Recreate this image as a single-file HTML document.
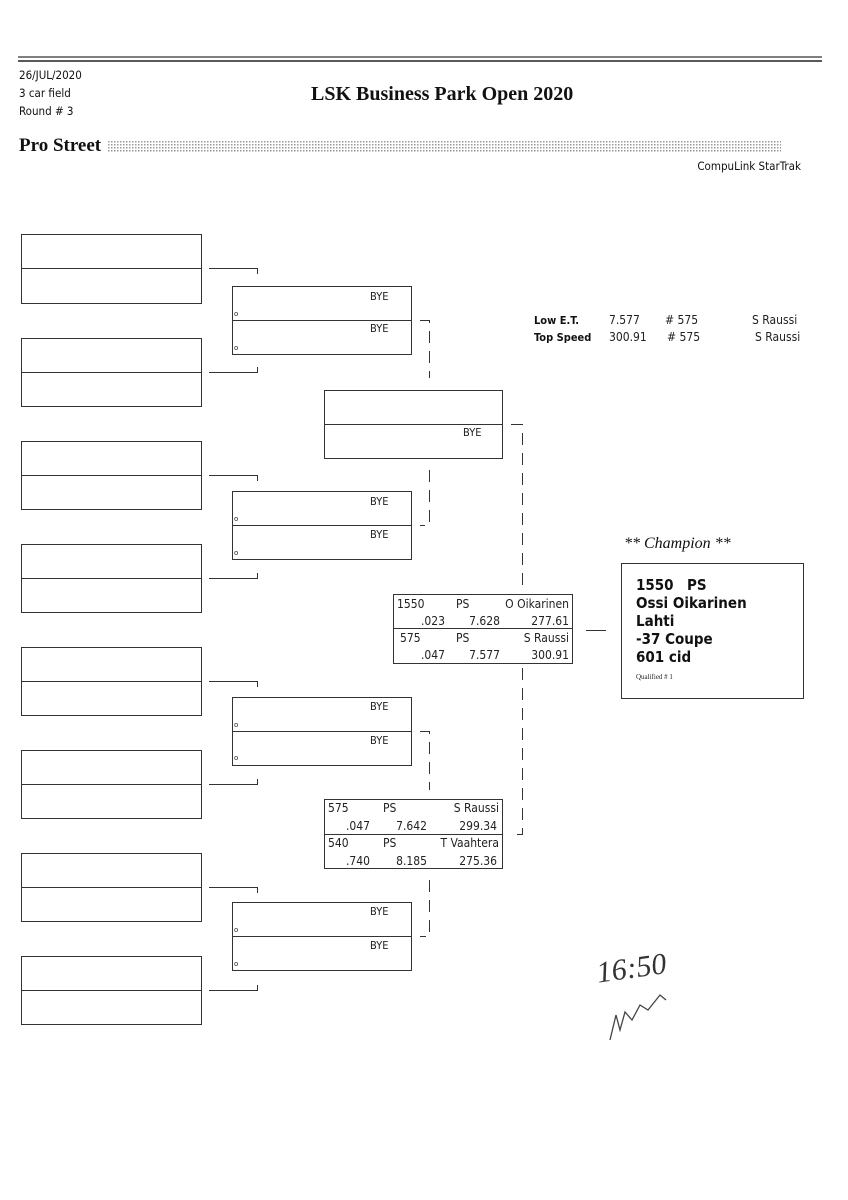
<!DOCTYPE html>
<html><head><meta charset="utf-8"><style>
html,body{margin:0;padding:0;background:#fff;}
svg{display:block}
</style></head><body>
<svg width="848" height="1200" viewBox="0 0 848 1200" xmlns="http://www.w3.org/2000/svg" font-family="Liberation Sans, sans-serif">
<defs>
<pattern id="dots" width="3" height="3" patternUnits="userSpaceOnUse"><rect width="3" height="3" fill="#fff"/><rect width="1.5" height="1.5" fill="#999"/></pattern>
</defs>
<line x1="18" y1="57" x2="822" y2="57" stroke="#555" stroke-width="1.5"/>
<line x1="18" y1="61" x2="822" y2="61" stroke="#222" stroke-width="1.5"/>
<text x="19" y="79" font-size="11.5" fill="#111" font-family="DejaVu Sans Condensed, sans-serif">26/JUL/2020</text>
<text x="19" y="97" font-size="11.5" fill="#111" font-family="DejaVu Sans Condensed, sans-serif">3 car field</text>
<text x="19" y="115" font-size="11.5" fill="#111" font-family="DejaVu Sans Condensed, sans-serif">Round # 3</text>
<text x="311" y="100" font-size="20" font-weight="bold" font-family="Liberation Serif, serif" fill="#111">LSK Business Park Open 2020</text>
<text x="19" y="151" font-size="19" font-weight="bold" font-family="Liberation Serif, serif" fill="#111">Pro Street</text>
<rect x="108" y="141" width="673" height="11" fill="url(#dots)"/>
<text x="801" y="170" font-size="11.5" text-anchor="end" fill="#111" font-family="DejaVu Sans Condensed, sans-serif">CompuLink StarTrak</text>

<g fill="none" stroke="#333" stroke-width="1">
<rect x="21.5" y="234.5" width="180" height="69"/><line x1="21" y1="268.5" x2="201" y2="268.5"/>
<rect x="21.5" y="338.5" width="180" height="68"/><line x1="21" y1="372.5" x2="201" y2="372.5"/>
<rect x="21.5" y="441.5" width="180" height="68"/><line x1="21" y1="475.5" x2="201" y2="475.5"/>
<rect x="21.5" y="544.5" width="180" height="68"/><line x1="21" y1="578.5" x2="201" y2="578.5"/>
<rect x="21.5" y="647.5" width="180" height="68"/><line x1="21" y1="681.5" x2="201" y2="681.5"/>
<rect x="21.5" y="750.5" width="180" height="68"/><line x1="21" y1="784.5" x2="201" y2="784.5"/>
<rect x="21.5" y="853.5" width="180" height="68"/><line x1="21" y1="887.5" x2="201" y2="887.5"/>
<rect x="21.5" y="956.5" width="180" height="68"/><line x1="21" y1="990.5" x2="201" y2="990.5"/>
<path d="M209 268.5H257.5V274"/><path d="M209 372.5H257.5V367"/>
<path d="M209 475.5H257.5V481"/><path d="M209 578.5H257.5V573"/>
<path d="M209 681.5H257.5V687"/><path d="M209 784.5H257.5V779"/>
<path d="M209 887.5H257.5V893"/><path d="M209 990.5H257.5V985"/>
<rect x="232.5" y="286.5" width="179" height="68"/><line x1="232" y1="320.5" x2="412" y2="320.5"/>
<rect x="232.5" y="491.5" width="179" height="68"/><line x1="232" y1="525.5" x2="412" y2="525.5"/>
<rect x="232.5" y="697.5" width="179" height="68"/><line x1="232" y1="731.5" x2="412" y2="731.5"/>
<rect x="232.5" y="902.5" width="179" height="68"/><line x1="232" y1="936.5" x2="412" y2="936.5"/>
<path d="M420 320.5H429.5V378" stroke-dasharray="12,8"/>
<path d="M429.5 470V525.5H420" stroke-dasharray="12,8"/>
<path d="M420 731.5H429.5V790" stroke-dasharray="12,8"/>
<path d="M429.5 880V936.5H420" stroke-dasharray="12,8"/>
<rect x="324.5" y="390.5" width="178" height="68"/><line x1="324" y1="424.5" x2="502" y2="424.5"/>
<rect x="324.5" y="799.5" width="178" height="69"/><line x1="324" y1="834.5" x2="502" y2="834.5"/>
<path d="M511 424.5H522.5V592" stroke-dasharray="12,8"/>
<path d="M522.5 668V834.5H511" stroke-dasharray="12,8"/>
<rect x="393.5" y="594.5" width="179" height="69"/><line x1="393" y1="628.5" x2="573" y2="628.5"/>
<line x1="586" y1="630.5" x2="606" y2="630.5"/>
<rect x="621.5" y="563.5" width="182" height="135"/>
</g>

<g font-family="DejaVu Sans Condensed, DejaVu Sans, sans-serif" font-size="11" fill="#222">
<text x="370" y="300">BYE</text><text x="370" y="332">BYE</text>
<text x="370" y="505">BYE</text><text x="370" y="538">BYE</text>
<text x="370" y="710">BYE</text><text x="370" y="744">BYE</text>
<text x="370" y="915">BYE</text><text x="370" y="949">BYE</text>
<text x="463" y="436">BYE</text>
</g>
<g font-family="DejaVu Sans, sans-serif" font-size="7" fill="#222">
<text x="234" y="316">o</text><text x="234" y="350">o</text>
<text x="234" y="521">o</text><text x="234" y="555">o</text>
<text x="234" y="727">o</text><text x="234" y="760">o</text>
<text x="234" y="932">o</text><text x="234" y="966">o</text>
</g>

<g font-family="DejaVu Sans Condensed, DejaVu Sans, sans-serif" font-size="12" fill="#222">
<text x="397" y="608">1550</text><text x="456" y="608">PS</text><text x="569" y="608" text-anchor="end">O Oikarinen</text>
<text x="445" y="625" text-anchor="end">.023</text><text x="500" y="625" text-anchor="end">7.628</text><text x="569" y="625" text-anchor="end">277.61</text>
<text x="400" y="642">575</text><text x="456" y="642">PS</text><text x="569" y="642" text-anchor="end">S Raussi</text>
<text x="445" y="659" text-anchor="end">.047</text><text x="500" y="659" text-anchor="end">7.577</text><text x="569" y="659" text-anchor="end">300.91</text>

<text x="328" y="812">575</text><text x="383" y="812">PS</text><text x="499" y="812" text-anchor="end">S Raussi</text>
<text x="370" y="830" text-anchor="end">.047</text><text x="427" y="830" text-anchor="end">7.642</text><text x="497" y="830" text-anchor="end">299.34</text>
<text x="328" y="847">540</text><text x="383" y="847">PS</text><text x="499" y="847" text-anchor="end">T Vaahtera</text>
<text x="370" y="865" text-anchor="end">.740</text><text x="427" y="865" text-anchor="end">8.185</text><text x="497" y="865" text-anchor="end">275.36</text>

<text x="609" y="324">7.577</text><text x="665" y="324"># 575</text><text x="752" y="324">S Raussi</text>
<text x="609" y="341">300.91</text><text x="667" y="341"># 575</text><text x="755" y="341">S Raussi</text>
</g>
<g font-size="11" font-weight="bold" fill="#111" font-family="DejaVu Sans Condensed, sans-serif">
<text x="534" y="324">Low  E.T.</text>
<text x="534" y="341">Top Speed</text>
</g>

<text x="624" y="548" font-family="Liberation Serif, serif" font-style="italic" font-size="16" fill="#111">** Champion **</text>
<g font-size="15" font-weight="bold" fill="#111" font-family="DejaVu Sans Condensed, sans-serif">
<text x="636" y="590">1550</text><text x="687" y="590">PS</text>
<text x="636" y="608">Ossi Oikarinen</text>
<text x="636" y="626">Lahti</text>
<text x="636" y="644">-37 Coupe</text>
<text x="636" y="662">601 cid</text>
</g>
<text x="636" y="679" font-family="Liberation Serif, serif" font-size="7" fill="#222">Qualified # 1</text>

<text x="596" y="978" font-family="Liberation Serif, serif" font-style="italic" font-size="30" fill="#333" transform="rotate(-8 630 965)">16:50</text>
<path d="M610 1040 L616 1015 L620 1030 L625 1012 L632 1020 L640 1005 L648 1010 L660 995 L666 1000" fill="none" stroke="#444" stroke-width="1.3"/>
</svg>
</body></html>
